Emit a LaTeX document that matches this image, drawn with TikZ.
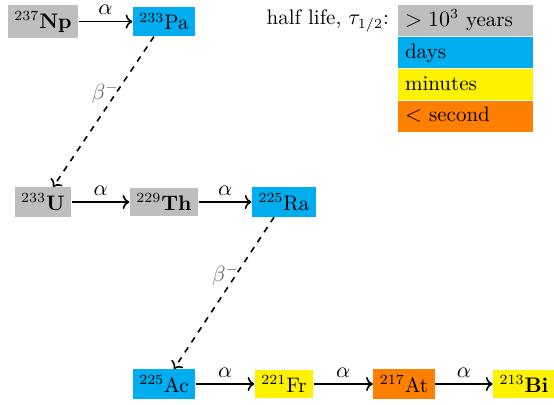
\documentclass[tikz,border=0pt]{standalone}
\usetikzlibrary{arrows.meta,positioning}
\definecolor{longgray}{HTML}{BEBEBE}
\definecolor{daysblue}{HTML}{00AEEF}
\definecolor{minyellow}{HTML}{FFF200}
\definecolor{secorange}{HTML}{FF7F00}

\begin{document}
\begin{tikzpicture}[
  x=1pt,y=1pt,
  every node/.style={font=\fontsize{10.5}{12.6}\selectfont},
  nuc/.style={inner xsep=3.33pt,inner ysep=3pt},
  yearsbox/.style={nuc,fill=longgray},
  daysbox/.style={nuc,fill=daysblue},
  minbox/.style={nuc,fill=minyellow},
  secbox/.style={nuc,fill=secorange},
  legbox/.style={text width=60.8pt,align=left,inner xsep=3.33pt,inner ysep=3pt,
                 text height=7.5pt,text depth=2pt},
  alphaarr/.style={->,thick},
  betaarr/.style={->,dashed,thick},
  alphalbl/.style={above=2pt,inner sep=1pt},
  betalbl/.style={pos=0.38,left=-3pt,inner sep=1pt,text=black!60}
]
\useasboundingbox (0,0) rectangle (277,-202);
% chain
\node[yearsbox] (np) at (21.5,-10.8) {$^{237}$\textbf{Np}};
\node[daysbox]  (pa) at (82,-10.8)   {$^{233}$Pa};
\node[yearsbox] (u)  at (21.5,-101)  {$^{233}$\textbf{U}};
\node[yearsbox] (th) at (82,-101)    {$^{229}$\textbf{Th}};
\node[daysbox]  (ra) at (142,-101)   {$^{225}$Ra};
\node[daysbox]  (ac) at (82,-192)    {$^{225}$Ac};
\node[minbox]   (fr) at (142,-192)   {$^{221}$Fr};
\node[secbox]   (at) at (202,-192)   {$^{217}$At};
\node[minbox]   (bi) at (262,-192)   {$^{213}$\textbf{Bi}};
% legend
\node[legbox,fill=longgray,anchor=north west] (leg1) at (199,-2.5) {$>10^3$ years};
\node[legbox,fill=daysblue,below=0pt of leg1] (leg2) {days};
\node[legbox,fill=minyellow,below=0pt of leg2] (leg3) {minutes};
\node[legbox,fill=secorange,below=0pt of leg3] (leg4) {$<$ second};
\node[left=1pt of leg1] (legtitle) {half life, $\tau_{1/2}$:};
% decays
\draw[alphaarr] (np) -- node[alphalbl] {$\alpha$} (pa);
\draw[alphaarr] (u) -- node[alphalbl] {$\alpha$} (th);
\draw[alphaarr] (th) -- node[alphalbl] {$\alpha$} (ra);
\draw[alphaarr] (ac) -- node[alphalbl] {$\alpha$} (fr);
\draw[alphaarr] (fr) -- node[alphalbl] {$\alpha$} (at);
\draw[alphaarr] (at) -- node[alphalbl] {$\alpha$} (bi);
\draw[betaarr] (pa) -- node[betalbl] {$\beta^-$} (u);
\draw[betaarr] (ra) -- node[betalbl] {$\beta^-$} (ac);
\end{tikzpicture}
\end{document}
